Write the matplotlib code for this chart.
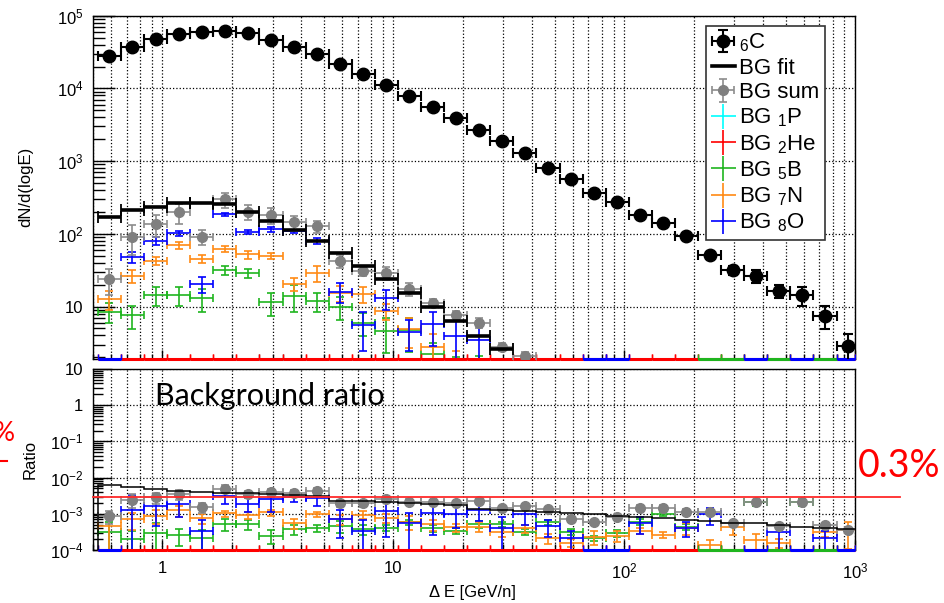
import numpy as np
import matplotlib
matplotlib.use("Agg")
import matplotlib.pyplot as plt
import matplotlib.ticker as mticker
import matplotlib.transforms as mtransforms
from matplotlib.lines import Line2D

nan = np.nan

plt.rcParams.update({
    "font.family": ["Liberation Sans", "DejaVu Sans"],
    "mathtext.fontset": "custom",
    "mathtext.rm": "Liberation Sans",
    "mathtext.it": "Liberation Sans:italic",
    "mathtext.bf": "Liberation Sans:bold",
    "mathtext.default": "regular",
    "axes.linewidth": 1.0,
})

# ---- energy binning: 33 bins, 0.1 decade wide ------------------------------
LOG_FIRST_EDGE = -0.28
LOG_BIN_WIDTH = 0.1
N_BINS = 33
edges = 10 ** (LOG_FIRST_EDGE + LOG_BIN_WIDTH * np.arange(N_BINS + 1))
centres = np.sqrt(edges[:-1] * edges[1:])

# ---- carbon spectrum dN/d(logE) ---------------------------------------------
carbon = [27900, 37000, 48000, 56000, 60000, 61000, 57000, 46000, 37500, 29500,
          22000, 16000, 11100, 7950, 5500, 3900, 2700, 1900, 1280, 810,
          562, 360, 271, 181, 142, 94, 51, 31.8, 26.3, 16.5,
          14.4, 7.5, 2.86]
carbon_relerr = [0.01, 0.01, 0.01, 0.01, 0.01, 0.01, 0.01, 0.01, 0.01, 0.01,
                 0.01, 0.01, 0.01, 0.015, 0.015, 0.02, 0.02, 0.025, 0.03, 0.04,
                 0.05, 0.06, 0.07, 0.08, 0.09, 0.10, 0.12, 0.15, 0.20, 0.20,
                 0.30, 0.35, 0.45]

# ---- background fit (counts, first 18 bins) and fit / carbon --------------
bg_fit = [169, 212, 236, 268, 268, 255, 200, 151, 113, 79,
          54, 36, 24, 15.5, 10, 6.3, 3.93, 2.58]
bg_fit_ratio = [6.25e-3, 5.4e-3, 4.7e-3, 4.3e-3, 3.95e-3, 3.85e-3, 3.7e-3, 3.5e-3,
                3.3e-3, 3.1e-3, 2.3e-3, 2.2e-3, 2.07e-3, 1.98e-3, 1.9e-3, 1.75e-3,
                1.4e-3, 1.27e-3, 1.2e-3, 1.15e-3, 1.08e-3, 9.8e-4, 8.7e-4, 8.0e-4,
                7.5e-4, 6.7e-4, 6.4e-4, 5.6e-4, 5.5e-4, 4.9e-4, 4.4e-4, 4.1e-4,
                3.7e-4]

# ---- background sum ----------------------------------------------------------
bg_sum = [23.7, 91, 136, 198, 91, 298, 201, 181, 144, 128,
          42.6, 31, 29, 17.3, 11.3, 7.6, 6.0, 2.8, 2.09, 1.09,
          0.40, 0.21, 0.217, 0.268, 0.21, 0.108, 0.056, 0.0175, 0.0544, 0.0076,
          0.0298, 0.0037, 0.00103]
bg_sum_relerr = [0.40, 0.44, 0.33, 0.30, 0.23, 0.23, 0.23, 0.24, 0.24, 0.19,
                 0.21, 0.16, 0.19, 0.20, 0.14, 0.16, 0.15, 0.13, 0.15, 0.20,
                 0.20, 0.20, 0.20, 0.20, 0.20, 0.20, 0.20, 0.20, 0.20, 0.20,
                 0.20, 0.20, 0.20]
bg_sum_ratio_relerr = [0.40, 0.40, 0.35, 0.30, 0.30, 0.25, 0.22, 0.25, 0.22, 0.22,
                       0.22, 0.18, 0.20, 0.20, 0.15, 0.15, 0.15, 0.15, 0.15, 0.15,
                       0.15, 0.15, 0.15, 0.15, 0.15, 0.15, 0.15, 0.15, 0.15, 0.15,
                       0.15, 0.15, 0.20]

# ---- individual background species (nan = empty bin, 0 = zero entries) ----
bg_p = [nan, nan, nan, nan, nan, nan, nan, 0, nan, nan,
        nan, nan, nan, nan, nan, nan, nan, nan, nan, nan,
        nan, nan, nan, nan, nan, nan, nan, nan, nan, nan,
        nan, nan, nan]
bg_he = [0, 0, 0, 0, 0, 0, 0, 0, 0, 0,
         0, 0, 0, 0, 0, 0, 0, 0, 0, 0,
         0, 0, 0, 0, 0, 0, 0, 0, 0, 0,
         0, 0, 0]
bg_b = [8.5, 7.6, 14.4, 14.4, 13, 31.8, 29, 11.4, 14, 11.9,
        10, 6.0, 4.6, 4.7, 2.2, 1.33, 1.4, 0.99, 0.41, 0.47,
        0.18, 0.076, 0.079, 0.11, 0.142, 0.041, 0, 0, 0.054, 0,
        0.030, 0, nan]
bg_b_relerr = [0.30, 0.35, 0.30, 0.30, 0.35, 0.15, 0.15, 0.35, 0.40, 0.30,
               0.35, 0.35, 0.50, 0.50, 0.45, 0.50, 0.50, 0.50, 0.50, 0.50,
               0.50, 0.50, 0.50, 0.50, 0.50, 0.50, 0.50, 0.50, 0.50, 0.50,
               0.50, 0.50, 0.50]
bg_b_ratio_relerr = [1.0, 0.6, 0.8, 0.5, 0.6, 0.35, 0.3, 0.4, 0.3, 0.2,
                     0.35, 0.3, 0.2, 0.15, 0.2, 0.2, 0.2, 0.15, 0.2, 0.15,
                     0.2, 0.15, 0.2, 0.2, 0.12, 0.2, 0, 0, 0.2, 0,
                     0.2, 0, 0]
bg_n = [12.6, 26.3, 42.3, 69.5, 45.8, 62.4, 52, 50, 20.4, 29,
        15.5, 15, 8.7, 4.85, 2.8, 1.65, 1.2, 0.61, 0.51, 0.17,
        0.09, 0.084, 0.068, 0.062, 0.038, 0.038, 0.007, 0.014, 0.005, 0.0026,
        nan, 0.0024, 0.00103]
bg_n_relerr = [0.28, 0.20, 0.12, 0.10, 0.12, 0.10, 0.12, 0.10, 0.20, 0.25,
               0.25, 0.25, 0.25, 0.45, 0.50, 0.50, 0.50, 0.50, 0.50, 0.50,
               0.50, 0.50, 0.50, 0.50, 0.50, 0.50, 0.50, 0.50, 0.50, 0.50,
               0.50, 0.50, 0.50]
bg_n_ratio_relerr = [1.0, 0.5, 0.4, 0.35, 0.3, 0.2, 0.2, 0.2, 0.3, 0.15,
                     0.3, 0.25, 0.3, 0.4, 0.35, 0.25, 0.3, 0.3, 0.25, 0.3,
                     0.25, 0.4, 0.35, 0.2, 0.2, 0.35, 0.4, 0.4, 0.5, 0.3,
                     0, 0.3, 0.7]
bg_o = [0, 47.5, 80, 102, 20.4, 187, 107, 115, 109, 80,
        16, 5.5, 13, 4.5, 5.7, 3.9, 3.5, 0.76, 1.25, 0.37,
        0.118, 0, 0, 0.10, nan, 0.039, 0.050, nan, 0, 0.0051,
        0, 0.00158, 0]
bg_o_relerr = [0, 0.17, 0.12, 0.08, 0.25, 0.05, 0.06, 0.09, 0.05, 0.08,
               0.30, 0.55, 0.30, 0.45, 0.50, 0.60, 0.60, 0.60, 0.60, 0.60,
               0.60, 0.60, 0.60, 0.60, 0.60, 0.60, 0.60, 0.60, 0.60, 0.60,
               0.60, 0.60, 0.60]
bg_o_ratio_relerr = [0, 1.5, 0.72, 0.55, 1.0, 0.4, 0.42, 0.55, 0.25, 0.4,
                     0.7, 1.0, 0.8, 0.9, 0.75, 0.6, 0.5, 1.0, 0.5, 0.5,
                     0.6, 0, 0, 0.5, 0, 0.45, 0.5, 0, 0, 0.7,
                     0, 0.6, 0]

SPECIES = [
    # label, counts, rel. err (spectrum), rel. err (ratio), colour
    (r"BG $_{1}$P", bg_p, None, None, "#00ffff"),
    (r"BG $_{2}$He", bg_he, None, None, "#ff0000"),
    (r"BG $_{5}$B", bg_b, bg_b_relerr, bg_b_ratio_relerr, "#1fb51f"),
    (r"BG $_{7}$N", bg_n, bg_n_relerr, bg_n_ratio_relerr, "#ff8a14"),
    (r"BG $_{8}$O", bg_o, bg_o_relerr, bg_o_ratio_relerr, "#0000ff"),
]

GRAY = "#7f7f7f"
XLIM = (0.5, 1000)
YLIM_TOP = (1.9, 1e5)
YLIM_BOT = (1e-4, 10)
RATIO_LINE = 0.003


def xerr_for(idx):
    return np.vstack([centres[idx] - edges[:-1][idx], edges[1:][idx] - centres[idx]])


def draw_points(ax, values, yerr, bar_color, lw=1.2, cap=3.0, fmt="none", **kw):
    v = np.asarray(values, float)
    e = np.asarray(yerr, float)
    idx = np.where(np.isfinite(v) & (v > 0))[0]
    return ax.errorbar(centres[idx], v[idx], xerr=xerr_for(idx), yerr=e[idx],
                       fmt=fmt, ecolor=bar_color, elinewidth=lw, capsize=cap,
                       capthick=lw, **kw)


def draw_floor(ax, values, color):
    """Bins with zero entries are drawn along the lower frame edge."""
    v = np.asarray(values, float)
    idx = np.where(v == 0)[0]
    if len(idx) == 0:
        return
    x0, x1 = ax.get_xlim()
    y0 = ax.get_ylim()[0]
    lo = np.clip(edges[:-1][idx], x0, x1)
    hi = np.clip(edges[1:][idx], x0, x1)
    ax.hlines(np.full(len(idx), y0), lo, hi, colors=color, lw=2.2,
              clip_on=False, zorder=4)
    ax.plot(np.concatenate([lo, hi]), np.full(2 * len(idx), y0), ls="none",
            marker="|", ms=7, mew=1.0, color=color, zorder=4)


def style_axis(ax, ylim, ymajor, ylabels, ylen, xlen, show_x):
    ax.set_xscale("log")
    ax.set_yscale("log")
    ax.set_xlim(*XLIM)
    ax.set_ylim(*ylim)
    ax.xaxis.set_major_locator(mticker.FixedLocator([1, 10, 100, 1000]))
    ax.xaxis.set_minor_locator(mticker.LogLocator(base=10, subs=np.arange(2, 10), numticks=30))
    ax.xaxis.set_minor_formatter(mticker.NullFormatter())
    if show_x:
        ax.xaxis.set_major_formatter(mticker.FixedFormatter(["1", "10", "$10^{2}$", "$10^{3}$"]))
    else:
        ax.xaxis.set_major_formatter(mticker.NullFormatter())
    ax.yaxis.set_major_locator(mticker.FixedLocator(ymajor))
    ax.yaxis.set_major_formatter(mticker.FixedFormatter(ylabels))
    ax.yaxis.set_minor_locator(mticker.LogLocator(base=10, subs=np.arange(2, 10), numticks=30))
    ax.yaxis.set_minor_formatter(mticker.NullFormatter())
    ax.tick_params(which="both", direction="in", top=False, right=False, width=1.0,
                   labelsize=12)
    ax.tick_params(axis="y", which="major", length=ylen[0], pad=7)
    ax.tick_params(axis="y", which="minor", length=ylen[1])
    ax.tick_params(axis="x", which="major", length=xlen[0], pad=8)
    ax.tick_params(axis="x", which="minor", length=xlen[1])
    ax.grid(True, which="major", axis="both", ls=":", color="k", lw=0.9)
    ax.grid(True, which="minor", axis="x", ls=":", color="k", lw=0.9)
    ax.set_axisbelow(True)


fig = plt.figure(figsize=(9.45, 6.03), dpi=100)
W, H = 945.0, 603.0
ax1 = fig.add_axes([93 / W, 1 - 359 / H, (855 - 93) / W, (359 - 15.7) / H])
ax2 = fig.add_axes([93 / W, 1 - 550 / H, (855 - 93) / W, (550 - 369) / H])

style_axis(ax1, YLIM_TOP, [10, 1e2, 1e3, 1e4, 1e5],
           ["10", "$10^{2}$", "$10^{3}$", "$10^{4}$", "$10^{5}$"],
           (16, 8.5), (6.5, 3.6), False)
style_axis(ax2, YLIM_BOT, [1e-4, 1e-3, 1e-2, 1e-1, 1, 10],
           ["$10^{-4}$", "$10^{-3}$", "$10^{-2}$", "$10^{-1}$", "1", "10"],
           (14, 7), (7, 4), True)

carbon_arr = np.asarray(carbon, float)

# ---- upper panel: spectra ----------------------------------------------------
legend_handles = {}
for label, counts, relerr, _, color in SPECIES:
    draw_floor(ax1, counts, color)
    c = np.asarray(counts, float)
    if relerr is not None:
        draw_points(ax1, c, c * np.asarray(relerr, float), color, lw=1.2, cap=3.0, zorder=3)
    legend_handles[label] = Line2D([], [], ls="none", marker="+", ms=18, mew=1.2, color=color)

sum_arr = np.asarray(bg_sum, float)
h_sum = draw_points(ax1, sum_arr, sum_arr * np.asarray(bg_sum_relerr), "#8c8c8c",
                    lw=1.2, cap=3.0, fmt="o", color=GRAY, ms=7, zorder=5)

nfit = len(bg_fit)
fit_idx = np.arange(nfit)
ax1.errorbar(centres[:nfit], bg_fit, xerr=xerr_for(fit_idx), fmt="none", ecolor="k",
             elinewidth=2.6, capsize=4, capthick=1.3, zorder=6)

h_c = draw_points(ax1, carbon_arr, carbon_arr * np.asarray(carbon_relerr), "k",
                  lw=1.5, cap=3.5, fmt="o", color="k", ms=9, zorder=7)

# ---- lower panel: background / carbon ratios ------------------------------
for label, counts, _, rrel, color in SPECIES:
    r = np.asarray(counts, float) / carbon_arr
    draw_floor(ax2, r, color)
    if rrel is not None:
        draw_points(ax2, r, r * np.asarray(rrel, float), color, lw=1.2, cap=3.0, zorder=3)

r_sum = sum_arr / carbon_arr
draw_points(ax2, r_sum, r_sum * np.asarray(bg_sum_ratio_relerr), "#8c8c8c",
            lw=1.2, cap=3.0, fmt="o", color=GRAY, ms=7, zorder=5)
ax2.stairs(bg_fit_ratio, edges, color="k", lw=1.1, zorder=6)

# ---- legend --------------------------------------------------------------------
handles = [h_c, Line2D([], [], color="k", lw=2.6), h_sum] + [legend_handles[s[0]] for s in SPECIES]
labels = [r"$_{6}$C", "BG fit", "BG sum"] + [s[0] for s in SPECIES]
leg = ax1.legend(handles, labels, loc="upper left",
                 bbox_to_anchor=(706 / W, 1 - 26 / H), bbox_transform=fig.transFigure,
                 fontsize=16, frameon=True, fancybox=False, framealpha=1,
                 edgecolor="#333333", borderpad=0.25, labelspacing=0.16,
                 handlelength=1.05, handletextpad=0.2, borderaxespad=0)
leg.get_frame().set_linewidth(1.2)
leg.set_zorder(10)

# ---- axis titles -----------------------------------------------------------
fig.text(26 / W, 1 - 187 / H, "dN/d(logE)", rotation=90, ha="center", va="center", fontsize=12)
fig.text(30 / W, 1 - 459 / H, "Ratio", rotation=90, ha="center", va="center", fontsize=12)
fig.text(472 / W, 1 - 592 / H, "\u0394 E [GeV/n]", ha="center", va="center", fontsize=12)

# ---- annotations -------------------------------------------------------------
fig.text(155 / W, 1 - 405 / H, "Background ratio", fontfamily="Lato", fontsize=22,
         ha="left", va="baseline")
blend = mtransforms.blended_transform_factory(fig.transFigure, ax2.transData)
fig.add_artist(Line2D([93 / W, 900 / W], [RATIO_LINE, RATIO_LINE], transform=blend,
                      color="#ff2a2a", lw=1.3, zorder=20))
fig.text(858 / W, 1 - 477 / H, "0.3%", color="#ff0000", fontfamily="Lato", fontsize=27,
         ha="left", va="baseline")
fig.text(15 / W, 1 - 441 / H, "0.3%", color="#ff0000", fontfamily="Lato", fontsize=19,
         ha="right", va="baseline")
fig.add_artist(Line2D([0, 7 / W], [1 - 461 / H, 1 - 461 / H], transform=fig.transFigure,
                      color="#ff0000", lw=1.5))

fig.savefig("out.png", dpi=100)
